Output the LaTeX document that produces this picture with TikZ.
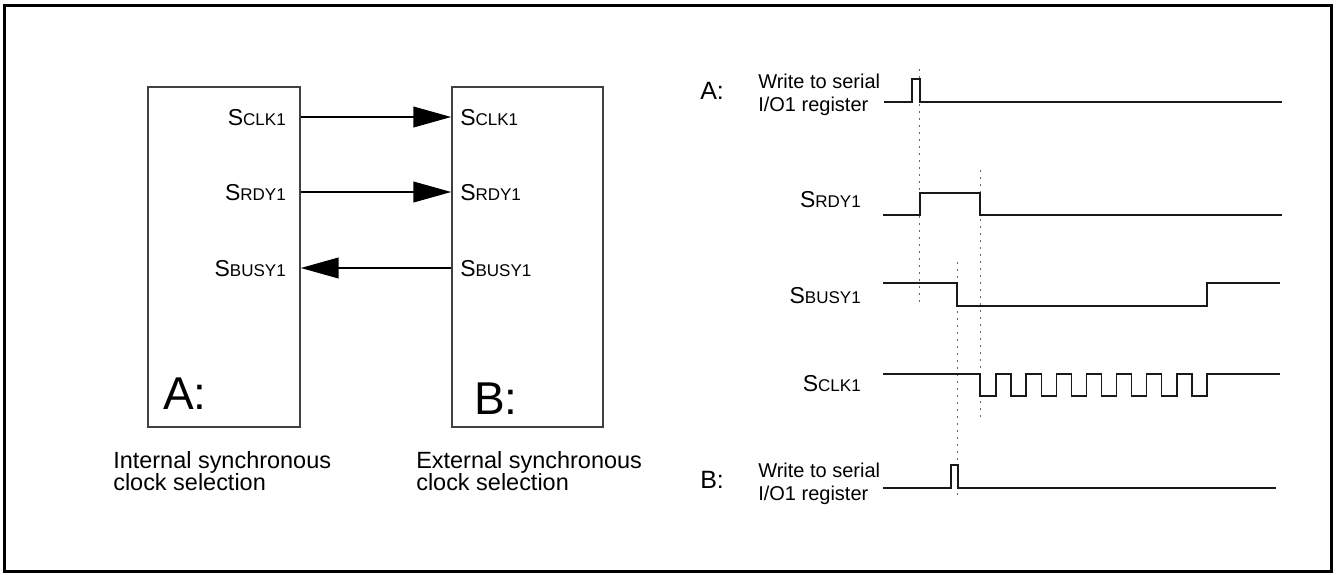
\documentclass[tikz,border=0pt]{standalone}
\usepackage{fontspec}
\setmainfont{Liberation Sans}
\usetikzlibrary{arrows.meta,fit}
\newcommand{\sigl}[1]{{\fontsize{17.25pt}{19pt}\selectfont S}{\fontsize{12.75pt}{14pt}\selectfont #1}}
\begin{document}
\begin{tikzpicture}[x=0.75pt,y=-0.75pt,
  outerframe/.style={draw=black,line width=2.25pt},
  blockbox/.style={draw=black!75,line width=1.1pt,inner sep=0pt},
  arr/.style={line width=1.5pt,-{Triangle[length=28.5pt,width=15.5pt]}},
  wave/.style={line width=1pt,draw=black!90},
  guide/.style={draw=black!60,line width=0.75pt,dash pattern=on 1.5pt off 3.75pt},
  sig/.style={inner sep=0pt},
  capt/.style={inner sep=0pt,align=left,font=\fontsize{17.6pt}{16.5pt}\selectfont},
  wlabel/.style={inner sep=0pt,align=left,font=\fontsize{15pt}{17.25pt}\selectfont},
  biglet/.style={inner sep=0pt,font=\fontsize{34.5pt}{36pt}\selectfont},
  rowlet/.style={inner sep=0pt,font=\fontsize{18.75pt}{20pt}\selectfont}]
\useasboundingbox (0,0) rectangle (1336,575);
\draw[outerframe] (4.5,5) rectangle (1331.5,571);

% left: blocks
\node[blockbox,fit={(148,87) (300,427)}] (boxA) {};
\node[blockbox,fit={(452,87) (603,427)}] (boxB) {};
\node[biglet,anchor=base west] (letA) at (163,409) {A:};
\node[biglet,anchor=base west] (letB) at (474,414) {B:};

\node[sig,anchor=base east] (aclk) at (286,125) {\sigl{CLK1}};
\node[sig,anchor=base east] (ardy) at (286,200) {\sigl{RDY1}};
\node[sig,anchor=base east] (absy) at (286,276) {\sigl{BUSY1}};
\node[sig,anchor=base west] (bclk) at (460,125) {\sigl{CLK1}};
\node[sig,anchor=base west] (brdy) at (460,200) {\sigl{RDY1}};
\node[sig,anchor=base west] (bbsy) at (460,276) {\sigl{BUSY1}};

\coordinate (r1) at (0,117);
\coordinate (r2) at (0,192);
\coordinate (r3) at (0,268);
\draw[arr] (boxA.east |- r1) -- (boxB.west |- r1);
\draw[arr] (boxA.east |- r2) -- (boxB.west |- r2);
\draw[arr] (boxB.west |- r3) -- (boxA.east |- r3);

\node[capt,anchor=north west] (capA) at (113,451.2) {Internal synchronous\\clock selection};
\node[capt,anchor=north west] (capB) at (416,451.2) {External synchronous\\clock selection};

% right: timing
\node[rowlet,anchor=base west] (tA) at (700,99) {A:};
\node[wlabel,anchor=north west] (wA) at (758,73.7) {Write to serial\\I/O1 register};
\node[rowlet,anchor=base west] (tB) at (700,488) {B:};
\node[wlabel,anchor=north west] (wB) at (758,462.7) {Write to serial\\I/O1 register};

\node[sig,anchor=base east] (trdy) at (861,207) {\sigl{RDY1}};
\node[sig,anchor=base east] (tbsy) at (861,303) {\sigl{BUSY1}};
\node[sig,anchor=base east] (tclk) at (861,391) {\sigl{CLK1}};

\draw[guide] (919,69) -- (919,303);
\draw[guide] (980,170) -- (980,420);
\draw[guide] (957,262) -- (957,497);

\draw[wave] (884,102) -- (912,102) -- (912,79) -- (920,79) -- (920,102) -- (1282,102);
\draw[wave] (883,215) -- (920,215) -- (920,193) -- (980,193) -- (980,215) -- (1282,215);
\draw[wave] (883,283) -- (957,283) -- (957,306) -- (1207,306) -- (1207,283) -- (1280,283);
\draw[wave] (883,374) -- (980,374) -- (980,396)
  foreach \k in {0,...,6} {
    -- ({996+30.14*\k},396) -- ({996+30.14*\k},374)
    -- ({1011.07+30.14*\k},374) -- ({1011.07+30.14*\k},396) }
  -- (1207,396) -- (1207,374) -- (1280,374);
\draw[wave] (883,488) -- (951,488) -- (951,465) -- (958,465) -- (958,488) -- (1276,488);
\end{tikzpicture}
\end{document}
